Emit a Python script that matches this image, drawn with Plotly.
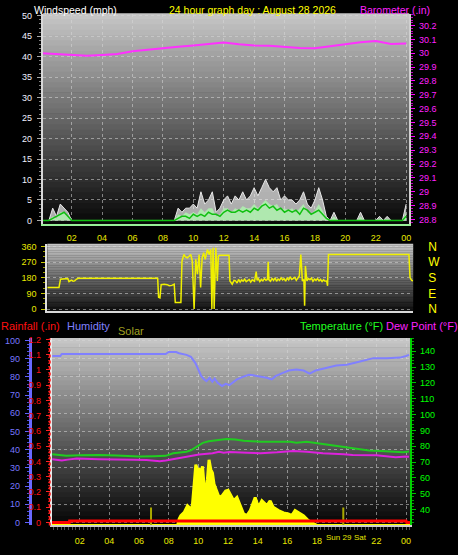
import plotly.graph_objects as go

W, H = 458, 555

# ----------------------------- data -----------------------------
# panel 1: wind (15-minute samples, 00:00 .. 24:00) and barometer (hourly)
quarter_hours = [i / 4 for i in range(97)]
wind_gust_mph = [
    0, 0, 0, 3, 1, 4, 3, 2,
    0, 0, 0, 0, 0, 0, 0, 0,
    0, 0, 0, 0, 0, 0, 0, 0,
    0, 0, 0, 0, 0, 0, 0, 0,
    0, 0, 0, 0, 3, 2, 3, 3,
    4, 3, 7, 4, 5, 7, 2, 3,
    5, 6, 4, 6, 5, 7, 5, 6,
    8, 6, 8, 10, 8, 7, 8, 5,
    6, 5, 5, 4, 5, 7, 4, 3,
    5, 8, 5, 1, 0, 2, 0, 0,
    0, 0, 0, 0, 2, 0, 0, 0,
    0, 1, 0, 1, 0, 0, 0, 0,
    4,
]
wind_speed_mph = [
    0, 0, 0, 1, 0.5, 2, 2, 1,
    0, 0, 0, 0, 0, 0, 0, 0,
    0, 0, 0, 0, 0, 0, 0, 0,
    0, 0, 0, 0, 0, 0, 0, 0,
    0, 0, 0, 0, 1.5, 1, 2, 1.5,
    2, 1.5, 3, 2, 3, 3, 1, 1.5,
    3, 3, 2, 3, 2.5, 3.5, 3, 3,
    4, 3, 4, 5, 4, 3.5, 4, 2.5,
    3, 2.5, 3, 2, 3, 4, 2, 1.5,
    2.5, 4, 2.5, 0.5, 0, 1, 0, 0,
    0, 0, 0, 0, 1, 0, 0, 0,
    0, 0.5, 0, 0.5, 0, 0, 0, 0,
    2,
]
wind_avg_mph = [
    0, 0, 0, 0.5, 1, 1.5, 2, 1,
    0, 0, 0, 0, 0, 0, 0, 0,
    0, 0, 0, 0, 0, 0, 0, 0,
    0, 0, 0, 0, 0, 0, 0, 0,
    0, 0, 0, 0, 0.5, 1, 1, 0.5,
    1.5, 1, 1.5, 1, 2, 1.5, 1.5, 1,
    2, 2.5, 2, 2, 2.5, 2, 2.5, 2,
    3, 2.5, 3.5, 4, 3, 3.5, 2.5, 3,
    2, 2.5, 2, 2.5, 1.5, 3, 2.5, 1.5,
    2, 2.5, 1.5, 0.5, 0, 0, 0, 0,
    0, 0, 0, 0, 0, 0, 0, 0,
    0, 0, 0, 0, 0, 0, 0, 0,
    1,
]
baro_hours = list(range(25))
baro_in = [30.000, 29.995, 29.985, 29.982, 29.988, 29.995, 30.015, 30.024,
           30.033, 30.047, 30.057, 30.066, 30.078, 30.066, 30.057, 30.055,
           30.047, 30.038, 30.037, 30.052, 30.066, 30.080, 30.088, 30.068,
           30.070]

# panel 2: wind direction
dir_time = [0.10, 0.87, 0.97, 1.36, 1.45, 1.53, 1.62, 1.69, 1.80, 1.90, 2.00, 2.12,
            3.0, 5.0, 7.37, 7.43, 7.52, 7.60, 7.80, 8.00, 8.13, 8.30, 8.46, 8.53,
            8.90, 8.97, 9.10, 9.20, 9.33, 9.45, 9.55, 9.65, 9.77, 9.88, 9.99, 10.10,
            10.20, 10.30, 10.40, 10.50, 10.58, 10.65, 10.76, 10.87, 10.94, 11.02,
            11.09, 11.20, 11.30, 11.37, 11.46, 12.07, 12.13, 12.20, 12.28, 12.40,
            12.50, 12.60, 12.70, 12.80, 12.90, 13.00, 13.10, 13.20, 13.30, 13.40,
            13.50, 13.60, 13.75, 13.86, 13.92, 14.00, 14.10, 14.20, 14.30, 14.40,
            14.50, 14.60, 14.65, 14.70, 14.80, 14.90, 15.00, 15.10, 15.20, 15.30,
            15.40, 15.50, 15.60, 15.70, 15.80, 15.90, 16.00, 16.10, 16.20, 16.30,
            16.40, 16.50, 16.60, 16.70, 16.80, 16.90, 17.00, 17.05, 17.10, 17.20,
            17.30, 17.40, 17.50, 17.60, 17.70, 17.80, 17.90, 18.00, 18.10, 18.20,
            18.30, 18.40, 18.50, 18.56, 18.62, 23.92, 23.99, 24.10, 24.20]
dir_deg = [124, 124, 172, 177, 176, 158, 165, 166, 160, 162, 170, 177,
           177, 177, 177, 68, 64, 140, 143, 140, 134, 136, 143, 38,
           38, 276, 314, 300, 295, 305, 314, 276, 0, 286, 200, 314,
           124, 295, 324, 286, 320, 343, 314, 343, 0, 352,
           0, 352, 162, 305, 310, 310, 162, 150, 143, 165,
           162, 150, 170, 155, 168, 160, 172, 158, 165, 170,
           155, 168, 160, 215, 165, 175, 158, 170, 162, 175,
           165, 170, 272, 168, 160, 175, 165, 180, 160, 172,
           165, 180, 168, 175, 160, 178, 168, 185, 170, 175,
           182, 165, 178, 190, 314, 162, 170, 19, 248, 162,
           175, 168, 178, 160, 172, 165, 175, 162, 170, 158,
           168, 160, 162, 134, 314, 314, 181, 165, 162]

# panel 3: humidity, temperature, dew point, rainfall, solar
hum_time = [0.15, 0.7, 0.8, 7.8, 8.0, 8.5, 8.7, 9.2, 9.5, 9.8, 10.05, 10.2, 10.4,
            10.55, 10.75, 10.95, 11.1, 11.3, 11.6, 11.85, 12.1, 12.4, 12.6, 13.0,
            13.4, 13.6, 13.9, 14.2, 14.6, 14.95, 15.2, 15.7, 16.1, 16.6, 17.1,
            17.5, 17.9, 18.4, 18.9, 19.3, 20.0, 20.5, 20.9, 21.4, 21.8, 22.7,
            23.2, 23.6, 24.0, 24.2]
hum_pct = [91.5, 91.5, 92.6, 92.6, 93.7, 93.7, 93.0, 92.1, 91.0, 87.6, 83.1, 80.4,
           78.6, 77.7, 79.5, 77.3, 79.1, 76.8, 75.0, 76.2, 75.5, 77.5, 78.6, 80.0,
           81.2, 81.0, 80.6, 80.4, 79.5, 78.6, 80.4, 82.2, 83.5, 84.0, 83.5,
           81.8, 83.5, 84.5, 85.5, 86.3, 86.7, 87.5, 88.5, 89.5, 90.3, 90.3,
           90.4, 90.6, 91.5, 92.1]
temp_time = [0.15, 0.8, 1.1, 2.0, 3.3, 4.5, 6.0, 7.0, 7.8, 8.3, 9.2, 9.5, 9.85,
             10.3, 10.7, 11.2, 11.9, 12.5, 13.05, 14.2, 16.2, 16.6, 17.3, 17.8,
             18.4, 19.5, 20.4, 21.5, 22.3, 23.1, 23.8, 24.2]
temp_f = [75.0, 74.3, 74.0, 74.3, 74.6, 74.2, 73.5, 73.7, 74.0, 75.6, 76.6, 77.5,
          79.8, 82.2, 83.2, 83.9, 84.7, 84.3, 83.5, 82.9, 82.9, 82.2, 82.9, 82.2,
          81.4, 80.2, 78.7, 77.3, 77.0, 76.6, 76.2, 76.8]
dew_time = [0.15, 0.5, 0.8, 1.2, 1.8, 3.3, 4.5, 5.6, 6.5, 7.4, 7.8, 8.3, 9.2,
            10.05, 10.95, 11.4, 11.7, 12.1, 13.3, 14.2, 15.3, 16.4, 17.3, 18.4,
            19.8, 20.4, 22.0, 22.7, 23.3, 24.0, 24.2]
dew_f = [71.9, 71.5, 71.1, 71.6, 72.3, 71.9, 71.9, 71.5, 71.3, 70.6, 71.0, 71.9,
         73.1, 74.8, 75.6, 76.6, 76.0, 76.4, 76.0, 75.6, 76.2, 77.1, 76.6, 75.6,
         75.0, 74.6, 74.4, 73.8, 73.1, 73.6, 73.4]
rain_time = [0.12, 1.30, 1.32, 24.00, 24.05, 24.28]
rain_in = [0.0, 0.0, 0.01, 0.01, 0.0, 0.0]
solar_time = [0.12, 8.6, 8.71, 8.82, 9.05, 9.27, 9.38, 9.49, 9.6, 9.72, 9.83, 9.94,
              10.05, 10.16, 10.28, 10.39, 10.5, 10.61, 10.72, 10.84, 10.95, 11.06,
              11.17, 11.28, 11.4, 11.6, 11.84, 12.0, 12.16, 12.38, 12.6, 12.83,
              13.05, 13.27, 13.5, 13.83, 14.05, 14.28, 14.62, 14.84, 15.05, 15.4,
              15.74, 16.07, 16.3, 16.52, 16.74, 17.08, 17.41, 17.75, 17.97, 24.28]
solar_wm2 = [0, 0, 84, 126, 168, 253, 232, 190, 261, 527, 779, 716,
             720, 653, 758, 505, 421, 590, 842, 716, 674, 527,
             463, 400, 358, 379, 442, 450, 400, 316, 358, 253,
             147, 126, 190, 358, 232, 316, 253, 316, 232, 190,
             160, 147, 126, 190, 168, 126, 63, 21, 0, 0]
sun_event_hours = [6.81, 19.77]        # sunrise / sunset markers
sun_marker_wm2 = 230

hour_ticks = [2, 4, 6, 8, 10, 12, 14, 16, 18, 20, 22, 24]
hour_labels = ["02", "04", "06", "08", "10", "12", "14", "16", "18", "20", "22", "00"]
hour_labels_p3 = ["02", "04", "06", "08", "10", "12", "14", "16", "18", "", "22", "00"]
wind_ticks = [0, 5, 10, 15, 20, 25, 30, 35, 40, 45, 50]
baro_ticks = [28.8, 28.9, 29.0, 29.1, 29.2, 29.3, 29.4, 29.5, 29.6, 29.7, 29.8,
              29.9, 30.0, 30.1, 30.2]
dir_ticks = [0, 90, 180, 270, 360]
dir_compass = ["N", "E", "S", "W", "N"]
hum_ticks = [0, 10, 20, 30, 40, 50, 60, 70, 80, 90, 100]
rain_ticks = [0, 0.1, 0.2, 0.3, 0.4, 0.5, 0.6, 0.7, 0.8, 0.9, 1.0, 1.1, 1.2]
temp_ticks = [40, 50, 60, 70, 80, 90, 100, 110, 120, 130, 140]

# ----------------------------- figure -----------------------------
FONT = "Liberation Sans, Arial, sans-serif"
GRID = "rgba(215,215,215,0.55)"
YEL = "#e8e800"


def px_x(px):
    return px / W


def px_y(py):
    return 1 - py / H


fig = go.Figure()

# panel 1
fig.add_trace(go.Scatter(x=quarter_hours, y=wind_gust_mph, xaxis="x", yaxis="y",
                         mode="lines", line=dict(color="#e8e8e8", width=1),
                         fill="tozeroy", fillcolor="rgba(240,240,240,0.7)"))
fig.add_trace(go.Scatter(x=quarter_hours, y=wind_speed_mph, xaxis="x", yaxis="y",
                         mode="lines", line=dict(color="rgba(0,0,0,0)", width=0),
                         fill="tozeroy", fillcolor="rgba(175,238,175,0.9)"))
fig.add_trace(go.Scatter(x=quarter_hours, y=wind_avg_mph, xaxis="x", yaxis="y",
                         mode="lines", line=dict(color="#10c010", width=1.5)))
fig.add_trace(go.Scatter(x=baro_hours, y=baro_in, xaxis="x", yaxis="y2",
                         mode="lines", line=dict(color="#ff30ff", width=2)))

# panel 2
fig.add_trace(go.Scatter(x=dir_time, y=dir_deg, xaxis="x2", yaxis="y3",
                         mode="lines", line=dict(color="#f0f000", width=1.5)))
fig.add_trace(go.Scatter(x=[None], y=[None], xaxis="x2", yaxis="y4", mode="lines"))

# panel 3
fig.add_trace(go.Scatter(x=solar_time, y=solar_wm2, xaxis="x3", yaxis="y5",
                         mode="lines", line=dict(color="#ffff00", width=3),
                         fill="tozeroy", fillcolor="#ffff00"))
sx, sy = [], []
for h in sun_event_hours:
    sx += [h, h, None]
    sy += [0, sun_marker_wm2, None]
fig.add_trace(go.Scatter(x=sx, y=sy, xaxis="x3", yaxis="y5", mode="lines",
                         line=dict(color="#a8a800", width=2)))
fig.add_trace(go.Scatter(x=hum_time, y=hum_pct, xaxis="x3", yaxis="y6",
                         mode="lines", line=dict(color="#8080ff", width=2)))
fig.add_trace(go.Scatter(x=temp_time, y=temp_f, xaxis="x3", yaxis="y7",
                         mode="lines", line=dict(color="#20cc20", width=2)))
fig.add_trace(go.Scatter(x=dew_time, y=dew_f, xaxis="x3", yaxis="y7",
                         mode="lines", line=dict(color="#dd22dd", width=2)))
fig.add_trace(go.Scatter(x=rain_time, y=rain_in, xaxis="x3", yaxis="y8",
                         mode="lines", line=dict(color="#ff0000", width=3)))


def gradient(xref, yref, top, bottom, n=40):
    for i in range(n):
        f = (i + 0.5) / n
        c = tuple(int(bottom[k] + (top[k] - bottom[k]) * f) for k in range(3))
        fig.add_shape(type="rect", xref=xref, yref=yref, x0=0, x1=1,
                      y0=i / n, y1=(i + 1) / n + 0.003,
                      fillcolor="rgb(%d,%d,%d)" % c, line_width=0, layer="below")


gradient("x domain", "y domain", (200, 200, 200), (6, 6, 6))
gradient("x2 domain", "y3 domain", (200, 200, 200), (14, 14, 14))
gradient("x3 domain", "y5 domain", (200, 200, 200), (4, 4, 4))

# red dotted rainfall axis line
fig.add_shape(type="line", xref="paper", yref="paper", x0=px_x(50), x1=px_x(50),
              y0=px_y(530), y1=px_y(340), line=dict(color="#ff2020", width=2, dash="dot"),
              layer="above")

tick_font = lambda c, s=9: dict(color=c, size=s, family=FONT)

fig.update_layout(
    width=W, height=H, autosize=False,
    margin=dict(l=0, r=0, t=0, b=0),
    paper_bgcolor="black", plot_bgcolor="black",
    showlegend=False, hovermode=False,
    font=dict(family=FONT, size=9, color="white"),
    # ---- panel 1
    xaxis=dict(domain=[px_x(43), px_x(411)], anchor="y", range=[0.1, 24.2],
               tickmode="array", tickvals=hour_ticks, ticktext=hour_labels,
               tickfont=tick_font(YEL), ticks="", ticklabelstandoff=4,
               showgrid=True, gridcolor=GRID, griddash="dot",
               showline=True, linecolor="#98f098", linewidth=2, zeroline=False),
    yaxis=dict(domain=[px_y(224), px_y(10)], anchor="x", range=[-0.96, 50.48],
               tickmode="array", tickvals=wind_ticks, tickfont=tick_font("#f0f0ff"),
               ticks="outside", ticklen=4, tickcolor="#a8a8a8", ticklabelstandoff=3,
               minor=dict(dtick=1, ticks="outside", ticklen=2, tickcolor="#808080"),
               showgrid=True, gridcolor=GRID, griddash="dot",
               showline=True, linecolor="#d8d8d8", linewidth=2, zeroline=False),
    yaxis2=dict(overlaying="y", side="right", anchor="x", range=[28.764, 30.285],
                tickmode="array", tickvals=baro_ticks,
                ticktext=["%g" % v for v in baro_ticks], tickfont=tick_font("#ff20ff"),
                ticks="outside", ticklen=4, tickcolor="#ff00ff", ticklabelstandoff=2,
                minor=dict(dtick=0.02, ticks="outside", ticklen=2, tickcolor="#c000c0"),
                showgrid=False, showline=True, linecolor="#d0d0d0", linewidth=2,
                zeroline=False),
    # ---- panel 2
    xaxis2=dict(domain=[px_x(47.5), px_x(415)], anchor="y3", range=[0.1, 24.2],
                showticklabels=False, ticks="", showgrid=False,
                showline=True, linecolor="#d8d8d8", linewidth=2, zeroline=False),
    yaxis3=dict(domain=[px_y(312), px_y(244)], anchor="x2", range=[-11, 374],
                tickmode="array", tickvals=dir_ticks, tickfont=tick_font("#e8e800"),
                ticks="outside", ticklen=4, tickcolor="#c8c800", ticklabelstandoff=3,
                minor=dict(dtick=30, ticks="outside", ticklen=2, tickcolor="#a0a000"),
                showgrid=True, gridcolor=GRID, griddash="dot",
                showline=True, linecolor="#e0e0e0", linewidth=2, zeroline=False),
    yaxis4=dict(overlaying="y3", side="right", anchor="x2", range=[-11, 374],
                tickmode="array", tickvals=dir_ticks, ticktext=dir_compass,
                tickfont=tick_font("#ffff00", 12), ticks="", ticklabelstandoff=14,
                showgrid=False, showline=False, zeroline=False),
    # ---- panel 3
    xaxis3=dict(domain=[px_x(52), px_x(412)], anchor="y5", range=[0.12, 24.28],
                tickmode="array", tickvals=hour_ticks, ticktext=hour_labels_p3,
                tickfont=tick_font(YEL), ticks="outside", ticklen=3,
                tickcolor="#606060", ticklabelstandoff=3,
                minor=dict(dtick=0.25, ticks="outside", ticklen=3, tickcolor="#505050"),
                showgrid=True, gridcolor=GRID, griddash="dot",
                showline=True, linecolor="#d0d0d0", linewidth=2, zeroline=False),
    yaxis5=dict(domain=[px_y(530), px_y(340)], anchor="x3", range=[0, 2400],
                visible=False),
    yaxis6=dict(overlaying="y5", anchor="free", position=px_x(30), side="left",
                range=[-1.6, 101.1], tickmode="array", tickvals=hum_ticks,
                tickfont=tick_font("#7878ff"), ticks="outside", ticklen=4,
                tickcolor="#6060ff", ticklabelstandoff=3,
                minor=dict(dtick=2, ticks="outside", ticklen=2, tickcolor="#5050e0"),
                showgrid=True, gridcolor=GRID, griddash="dot",
                showline=True, linecolor="#6868ff", linewidth=3, zeroline=False),
    yaxis7=dict(overlaying="y5", anchor="x3", side="right", range=[30.06, 148.1],
                tickmode="array", tickvals=temp_ticks, tickfont=tick_font("#00ff00"),
                ticks="outside", ticklen=4, tickcolor="#00c000", ticklabelstandoff=2,
                minor=dict(dtick=2, ticks="outside", ticklen=2, tickcolor="#00a000"),
                showgrid=False, showline=True, linecolor="#00d000", linewidth=2,
                zeroline=False),
    yaxis8=dict(overlaying="y5", anchor="x3", side="left", range=[-0.019, 1.206],
                tickmode="array", tickvals=rain_ticks,
                ticktext=["%g" % v for v in rain_ticks], tickfont=tick_font("#ff1010"),
                ticks="outside", ticklen=4, tickcolor="#ff2020", ticklabelstandoff=3,
                minor=dict(dtick=0.02, ticks="outside", ticklen=2, tickcolor="#c01010"),
                showgrid=False, showline=True, linecolor="#e8e8e8", linewidth=2,
                zeroline=False),
)

ann = [
    ("Windspeed (mph)", 33, 6, "left", "#ffffff", 10.5),
    ("24 hour graph day : August 28 2026", 254, 6, "center", "#ffff00", 10.5),
    ("Barometer (.in)", 433, 6, "right", "#ff20ff", 10.5),
    ("Rainfall (.in)", 0, 327, "left", "#ff1010", 11),
    ("Humidity", 66, 327, "left", "#8080ff", 11),
    ("Solar", 118, 332, "left", "#a0a020", 11),
    ("Temperature (°F)", 386, 327, "right", "#20ff20", 11),
    ("Dew Point (°F)", 387, 327, "left", "#ff20ff", 11),
    ("Sun 29", 326, 542, "left", YEL, 8),
    ("Sat", 355, 542, "left", YEL, 8),
]
for text, x, y, anchor, color, size in ann:
    fig.add_annotation(text=text, xref="paper", yref="paper", x=px_x(x), y=px_y(y),
                       xanchor=anchor, yanchor="middle", showarrow=False,
                       borderpad=0, font=dict(color=color, size=size, family=FONT))

fig.write_html("out.html", config={"displayModeBar": False},
               post_script="document.body.style.margin='0';")
